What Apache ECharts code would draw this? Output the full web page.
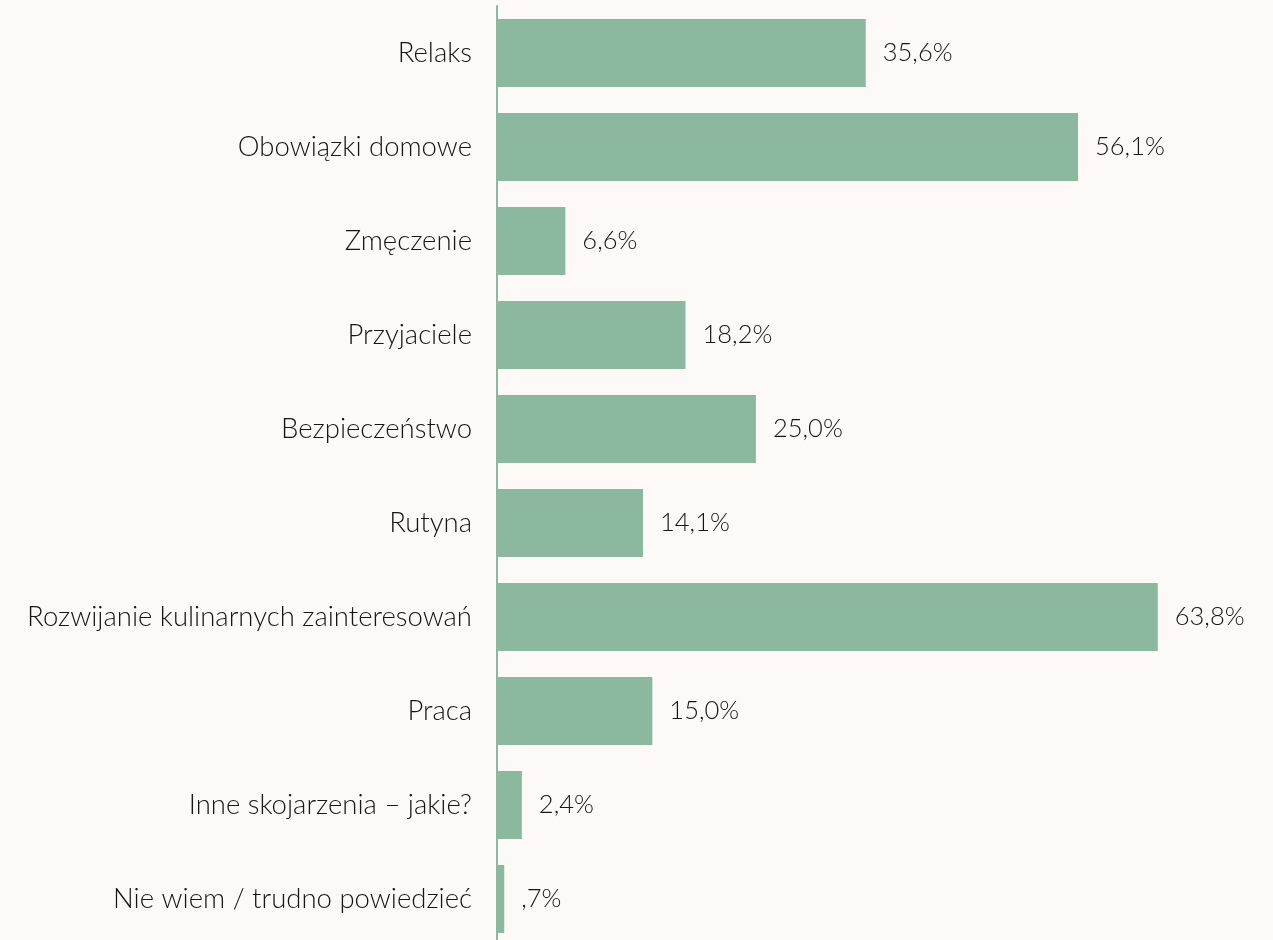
<!DOCTYPE html>
<html>
<head>
<meta charset="utf-8">
<script src="https://cdn.jsdelivr.net/npm/echarts@6/dist/echarts.min.js"></script>
<style>
    html, body { margin: 0; padding: 0; background: #fdf9f6; }
    #chart { width: 1273px; height: 940px; }
</style>
</head>
<body>
<div id="chart"></div>
<script>
// kategorie od góry do dołu
let categories = [
    'Relaks',
    'Obowiązki domowe',
    'Zmęczenie',
    'Przyjaciele',
    'Bezpieczeństwo',
    'Rutyna',
    'Rozwijanie kulinarnych zainteresowań',
    'Praca',
    'Inne skojarzenia – jakie?',
    'Nie wiem / trudno powiedzieć'
];
let values = [35.6, 56.1, 6.6, 18.2, 25.0, 14.1, 63.8, 15.0, 2.4, 0.7];

// etykiety w stylu oryginału: przecinek, bez zera wiodącego
function fmt(v) {
    let s = v.toFixed(1).replace('.', ',');
    if (s.indexOf('0,') === 0) s = s.slice(1);
    return s + '%';
}

let myChart = echarts.init(document.getElementById('chart'));

let option = {
    backgroundColor: '#fdf9f6',
    textStyle: { fontFamily: 'Lato' },
    grid: {
        left: 497,
        width: 725,
        top: 6,
        height: 940,
        outerBoundsMode: 'none'
    },
    xAxis: {
        type: 'value',
        min: 0,
        max: 70,
        show: false
    },
    yAxis: {
        type: 'category',
        inverse: true,
        data: categories,
        axisLine: {
            show: true,
            lineStyle: { color: '#8db8a0', width: 2 }
        },
        axisTick: { show: false },
        axisLabel: {
            color: '#151515',
            fontSize: 27.5,
            fontWeight: 300,
            fontFamily: 'Lato',
            margin: 25
        }
    },
    series: [
        {
            type: 'bar',
            data: values,
            barWidth: 68,
            itemStyle: { color: '#8db8a0' },
            label: {
                show: true,
                position: 'right',
                distance: 17,
                color: '#151515',
                fontSize: 25.5,
                fontWeight: 300,
                fontFamily: 'Lato',
                formatter: (p) => fmt(p.value)
            }
        }
    ]
};

myChart.setOption(option);
</script>
</body>
</html>
